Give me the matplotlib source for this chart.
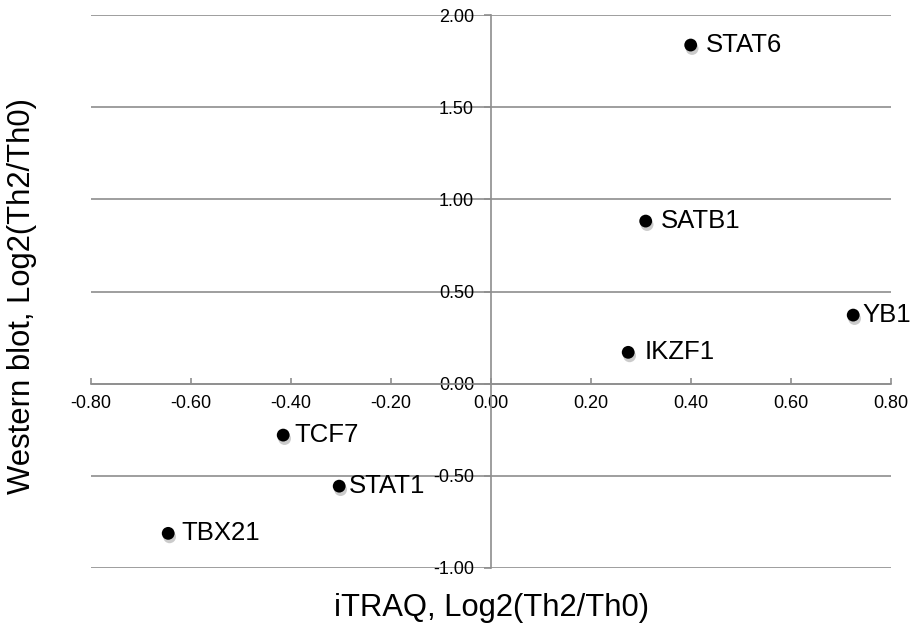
import matplotlib
matplotlib.use("Agg")
import matplotlib.pyplot as plt
import matplotlib.patheffects as pe

plt.rcParams['font.family'] = ['Liberation Sans', 'DejaVu Sans']

# 遺伝子ごとの iTRAQ / Western blot の log2 比
genes = ["STAT6", "SATB1", "YB1", "IKZF1", "TCF7", "STAT1", "TBX21"]
itraq = [0.40, 0.31, 0.725, 0.275, -0.415, -0.303, -0.645]
western = [1.837, 0.882, 0.372, 0.170, -0.279, -0.556, -0.812]

x_ticks = [-0.8, -0.6, -0.4, -0.2, 0.0, 0.2, 0.4, 0.6, 0.8]
y_ticks = [-1.0, -0.5, 0.0, 0.5, 1.0, 1.5, 2.0]

# ラベルの点からの横ずれ (px)
label_dx = {"STAT6": 15, "SATB1": 15, "YB1": 9, "IKZF1": 16,
            "TCF7": 11, "STAT1": 10, "TBX21": 13}

GRID = "#8e8e8e"

fig = plt.figure(figsize=(9.12, 6.28), dpi=100)
ax = fig.add_axes([90.7 / 912, 60 / 628, 800 / 912, 553 / 628])
ax.set_xlim(-0.8, 0.8)
ax.set_ylim(-1.0, 2.0)

for s in ["top", "right"]:
    ax.spines[s].set_visible(False)
ax.spines["left"].set_position(("data", 0))
ax.spines["bottom"].set_position(("data", 0))
for s in ["left", "bottom"]:
    ax.spines[s].set_color(GRID)
    ax.spines[s].set_linewidth(1.2)
    ax.spines[s].set_zorder(1)

ax.set_xticks(x_ticks)
ax.set_yticks(y_ticks)
ax.set_xticklabels([f"{v:.2f}" for v in x_ticks])
ax.set_yticklabels([f"{v:.2f}" for v in y_ticks])
ax.tick_params(axis="x", direction="in", length=4, width=1.2, color=GRID,
               pad=8, labelsize=13)
ax.tick_params(axis="y", direction="out", length=5, width=1.2, color=GRID,
               pad=7, labelsize=13)

ax.yaxis.grid(True, color=GRID, linewidth=1.2)
ax.set_axisbelow(True)

sc = ax.scatter(itraq, western, s=85, color="black", zorder=3,
                linewidths=0)
sc.set_path_effects([pe.SimplePatchShadow(offset=(1, -2.5),
                                          shadow_rgbFace="#999999",
                                          alpha=0.5),
                     pe.Normal()])

for g, x, y in zip(genes, itraq, western):
    ax.annotate(g, (x, y), xytext=(label_dx[g] * 0.72, 0),
                textcoords="offset points", ha="left", va="center",
                fontsize=18.5, zorder=4)

fig.text(492 / 912, 1 - 608 / 628, "iTRAQ, Log2(Th2/Th0)", ha="center",
         va="center", fontsize=22.3)
fig.text(22 / 912, 1 - 296 / 628, "Western blot, Log2(Th2/Th0)",
         ha="center", va="center", rotation=90, fontsize=22.3)

fig.savefig("out.png", dpi=100)
